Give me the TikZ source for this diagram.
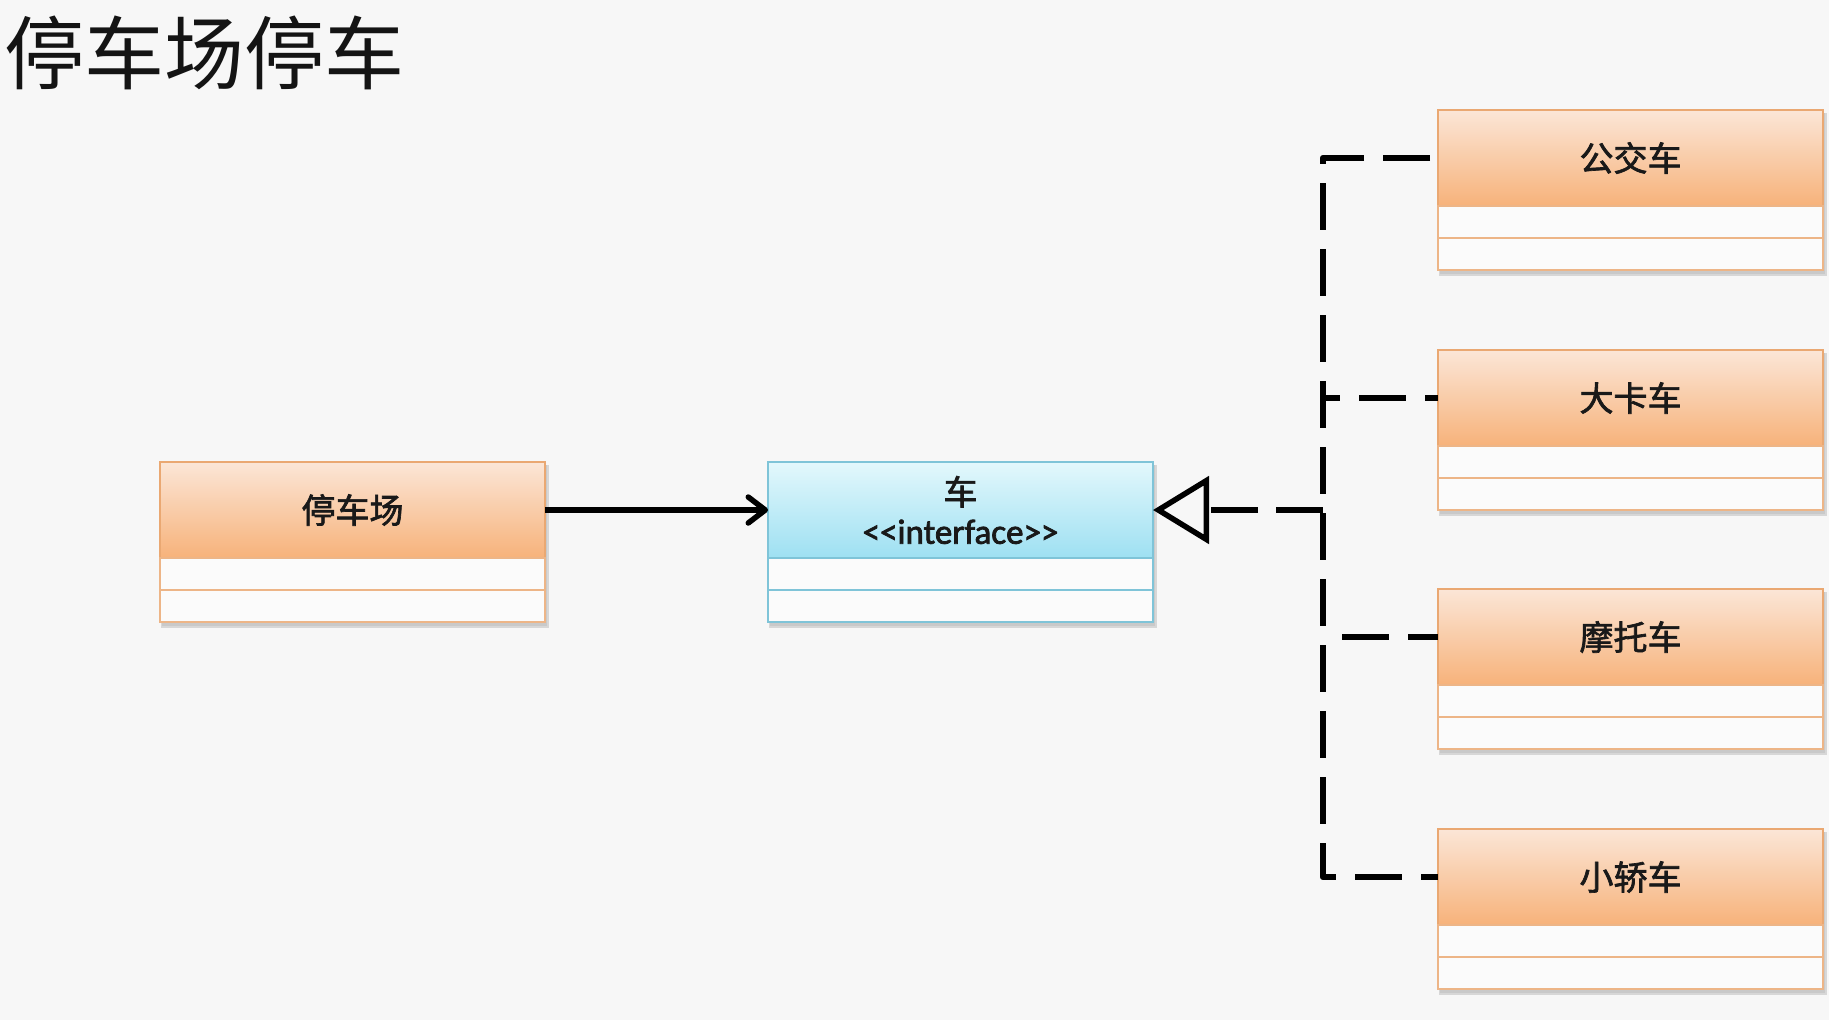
\documentclass[tikz,border=0pt]{standalone}
\usepackage{fontspec}
\newfontfamily\cjk{Noto Sans CJK SC}
\newfontfamily\cjklab[FakeBold=2]{Noto Sans CJK SC}
\newfontfamily\latlab[FakeBold=2.2]{Carlito}
\usetikzlibrary{arrows.meta}
\definecolor{bg}{HTML}{F7F7F7}
\definecolor{otop}{HTML}{FBE6D7}
\definecolor{omid}{HTML}{F9CCA6}
\definecolor{obot}{HTML}{F7B27A}
\definecolor{oborder}{HTML}{EAA872}
\definecolor{btop}{HTML}{E3F8FC}
\definecolor{bmid}{HTML}{BDEBF7}
\definecolor{bbot}{HTML}{9EE0F2}
\definecolor{bborder}{HTML}{7FC4D8}
\definecolor{rowfill}{HTML}{FBFBFB}
\definecolor{shadowc}{HTML}{BEBEBE}
\tikzset{
  classhead/.style={draw, line width=1.5pt, outer sep=0pt, minimum width=385pt, minimum height=96pt,
    anchor=north west, inner sep=0pt, text=black!90,
    font=\cjklab\fontsize{34}{42}\selectfont, align=center},
  ohead/.style={classhead, draw=oborder, top color=otop, middle color=omid, bottom color=obot},
  bhead/.style={classhead, draw=bborder, top color=btop, middle color=bmid, bottom color=bbot},
  rowbox/.style={line width=1.5pt, outer sep=0pt, fill=rowfill, minimum width=385pt, minimum height=32pt,
    anchor=north west, inner sep=0pt},
  orow/.style={rowbox, draw=oborder!85},
  brow/.style={rowbox, draw=bborder},
  boxshadow/.style={fill=shadowc, opacity=0.55},
  assoc/.style={line width=5.5pt, -{Straight Barb[round, length=17pt, width=26pt]}},
  realize/.style={line width=6.5pt, dash pattern=on 47pt off 18pt,
    -{Triangle[open, length=56pt, width=67pt, fill=bg, line width=5.5pt]}},
  dline/.style={line width=6.5pt, dash pattern=on 47pt off 19pt},
}
\begin{document}
\begin{tikzpicture}[x=1pt, y=-1pt]
\fill[bg] (0,0) rectangle (1829,1020);
\useasboundingbox (0,0) rectangle (1829,1020);

\node[anchor=west, inner sep=0pt, font=\cjk\fontsize{80}{90}\selectfont, text=black!92] (title) at (4,53) {停车场停车};

% shadows
\foreach \x/\y in {160/462, 768/462, 1438/110, 1438/350, 1438/589, 1438/829}{
  \fill[boxshadow] (\x+1,\y+3) rectangle (\x+389,\y+166);
  \fill[boxshadow] (\x+2,\y+3) rectangle (\x+387,\y+164);
}

% 停车场
\node[ohead] (park) at (160,462) {停车场};
\node[orow] (park1) at (park.south west) {};
\node[orow] (park2) at (park1.south west) {};

% 车 interface
\node[bhead] (iface) at (768,462) {车\\[-3pt]{\latlab\fontsize{35}{42}\selectfont <\kern0pt<interface>\kern0pt>}};
\node[brow] (iface1) at (iface.south west) {};
\node[brow] (iface2) at (iface1.south west) {};

% right column
\node[ohead] (bus) at (1438,110) {公交车};
\node[orow] (bus1) at (bus.south west) {};
\node[orow] (bus2) at (bus1.south west) {};

\node[ohead] (truck) at (1438,350) {大卡车};
\node[orow] (truck1) at (truck.south west) {};
\node[orow] (truck2) at (truck1.south west) {};

\node[ohead] (moto) at (1438,589) {摩托车};
\node[orow] (moto1) at (moto.south west) {};
\node[orow] (moto2) at (moto1.south west) {};

\node[ohead] (car) at (1438,829) {小轿车};
\node[orow] (car1) at (car.south west) {};
\node[orow] (car2) at (car1.south west) {};

% connectors
\draw[assoc] (park.east) -- (iface.west);

\coordinate (jt) at (1323,510);
\draw[realize] (jt) -- (iface.east);
\draw[dline, dash phase=58pt, line join=round] (bus.west) -- (bus.west -| jt) -- (car.west -| jt) -- (car.west);
\draw[dline, dash phase=30pt] (truck.west -| jt) -- (truck.west);
\draw[dline, dash phase=47pt] (moto.west -| jt) -- (moto.west);
\end{tikzpicture}
\end{document}
